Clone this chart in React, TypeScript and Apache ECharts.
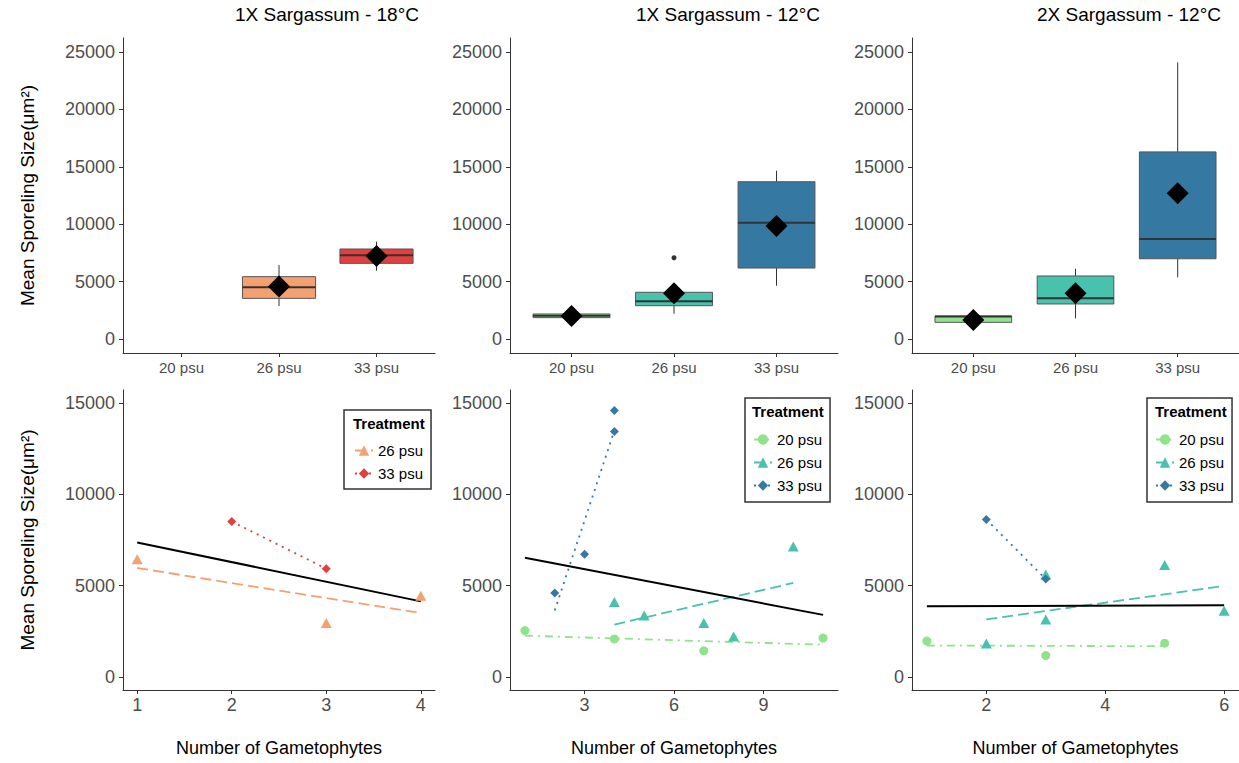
import React, { useEffect, useRef } from "react";
import * as echarts from "echarts";

const FONT = '"Liberation Sans", Arial, Helvetica, sans-serif';

// ---------- top row (boxplots) ----------
const psuCats = ["20 psu", "26 psu", "33 psu"];
const panelTitles = ["1X Sargassum - 18°C", "1X Sargassum - 12°C", "2X Sargassum - 12°C"];
const colors18 = ["#8FE38A", "#F4A070", "#E23F3F"];
const colors12 = ["#8FE38A", "#48C1AD", "#3579A2"];

// [category (1-based), lower whisker, Q1, median, Q3, upper whisker]
const box18 = [
  [2, 2870, 3540, 4500, 5430, 6450],
  [3, 5950, 6590, 7290, 7840, 8480],
];
const mean18 = [
  [2, 4580],
  [3, 7230],
];
const box1x12 = [
  [1, 1860, 1860, 2030, 2180, 2180],
  [2, 2200, 2900, 3280, 4070, 4100],
  [3, 4640, 6180, 10130, 13700, 14660],
];
const mean1x12 = [
  [1, 2000],
  [2, 3980],
  [3, 9840],
];
const outlier1x12 = [[2, 7080]];
const box2x12 = [
  [1, 1450, 1450, 1950, 2000, 2000],
  [2, 1800, 3050, 3550, 5490, 6120],
  [3, 5370, 6990, 8710, 16300, 24100],
];
const mean2x12 = [
  [1, 1650],
  [2, 3980],
  [3, 12690],
];
const topTicks = [0, 5000, 10000, 15000, 20000, 25000];

// ---------- bottom row (scatter + fits) ----------
const bottomTicks = [0, 5000, 10000, 15000];
// 1X Sargassum 18°C
const p4x26 = [1, 3, 4];
const p4y26 = [6450, 2950, 4450];
const p4x33 = [2, 3];
const p4y33 = [8520, 5930];
const p4fitAll = [[1, 7370], [4, 4140]];
const p4fit26 = [[1, 5970], [4, 3500]];
const p4fit33 = [[2, 8520], [3, 5930]];
// 1X Sargassum 12°C
const p5x20 = [1, 4, 7, 11];
const p5y20 = [2540, 2080, 1430, 2130];
const p5x26 = [4, 5, 7, 8, 10];
const p5y26 = [4100, 3360, 2960, 2210, 7150];
const p5x33 = [2, 3, 4, 4];
const p5y33 = [4600, 6730, 14610, 13460];
const p5fitAll = [[1, 6530], [11, 3400]];
const p5fit20 = [[1, 2260], [11, 1760]];
const p5fit26 = [[4, 2870], [10, 5150]];
const p5fit33 = [[2, 3640], [4, 13500]];
// 2X Sargassum 12°C
const p6x20 = [1, 3, 5];
const p6y20 = [1960, 1170, 1850];
const p6x26 = [2, 3, 3, 5, 6];
const p6y26 = [1830, 3150, 5620, 6130, 3620];
const p6x33 = [2, 3];
const p6y33 = [8630, 5360];
const p6fitAll = [[1, 3870], [6, 3930]];
const p6fit20 = [[1, 1720], [5, 1680]];
const p6fit26 = [[2, 3150], [6, 4990]];
const p6fit33 = [[2, 8630], [3, 5360]];

const legendLabel: Record<string, string> = {
  "p4-26": "26 psu",
  "p4-33": "33 psu",
  "p5-20": "20 psu",
  "p5-26": "26 psu",
  "p5-33": "33 psu",
  "p6-20": "20 psu",
  "p6-26": "26 psu",
  "p6-33": "33 psu",
};

const DASH_26 = [11, 5];
const DOT_33 = [2, 5];
const DOTDASH_20 = [8, 5, 2, 5];

function App() {
  const ref = useRef<HTMLDivElement>(null);

  useEffect(() => {
    document.body.style.margin = "0";
    const chart = echarts.init(ref.current!, null, { renderer: "svg" });

    const grids = [
      { left: 123, top: 38, width: 312, height: 315 },
      { left: 510, top: 38, width: 328, height: 315 },
      { left: 912, top: 38, width: 329, height: 315 },
      { left: 123, top: 390, width: 312, height: 300 },
      { left: 510, top: 390, width: 328, height: 300 },
      { left: 912, top: 390, width: 329, height: 300 },
    ];

    const axisLine = { show: true, onZero: false, lineStyle: { color: "#333", width: 1 } };
    const axisTick = (vals: number[]) => ({
      show: true,
      length: 4,
      lineStyle: { color: "#333", width: 1 },
      customValues: vals,
    });

    const yTitle = "Mean Sporeling Size(μm²)";
    const yAxes = [0, 1, 2, 3, 4, 5].map((i) => {
      const top = i < 3;
      const ticks = top ? topTicks : bottomTicks;
      return {
        type: "value",
        gridIndex: i,
        min: top ? -1220 : -720,
        max: top ? 26220 : 15730,
        splitLine: { show: false },
        axisLine,
        axisTick: axisTick(ticks),
        axisLabel: {
          customValues: ticks,
          formatter: (v: number) => String(Math.round(v)),
          fontSize: 18,
          color: "#4d4d4d",
          fontFamily: FONT,
          margin: 8,
        },
        name: i === 0 || i === 3 ? yTitle : "",
        nameLocation: "middle",
        nameRotate: 90,
        nameGap: 86,
        nameTextStyle: { fontSize: 19, color: "#000", fontFamily: FONT },
      };
    });

    const bottomX = [
      { min: 0.85, max: 4.15, ticks: [1, 2, 3, 4] },
      { min: 0.5, max: 11.5, ticks: [3, 6, 9] },
      { min: 0.75, max: 6.25, ticks: [2, 4, 6] },
    ];
    const xAxes: any[] = [];
    for (let i = 0; i < 3; i++) {
      xAxes.push({
        type: "value",
        gridIndex: i,
        min: 0.4,
        max: 3.6,
        splitLine: { show: false },
        axisLine,
        axisTick: axisTick([1, 2, 3]),
        axisLabel: {
          customValues: [1, 2, 3],
          formatter: (v: number) => psuCats[Math.round(v) - 1],
          fontSize: 15,
          color: "#4d4d4d",
          fontFamily: FONT,
          margin: 7,
        },
      });
    }
    bottomX.forEach((b, k) => {
      xAxes.push({
        type: "value",
        gridIndex: 3 + k,
        min: b.min,
        max: b.max,
        splitLine: { show: false },
        axisLine,
        axisTick: axisTick(b.ticks),
        axisLabel: {
          customValues: b.ticks,
          formatter: (v: number) => String(Math.round(v)),
          fontSize: 18,
          color: "#4d4d4d",
          fontFamily: FONT,
          margin: 6,
        },
        name: "Number of Gametophytes",
        nameLocation: "middle",
        nameGap: 49,
        nameTextStyle: { fontSize: 18, color: "#000", fontFamily: FONT },
      });
    });

    const boxSeries = (data: number[][], colors: string[], idx: number) => ({
      type: "custom",
      xAxisIndex: idx,
      yAxisIndex: idx,
      encode: { x: 0, y: [1, 2, 3, 4, 5] },
      data: data.map((d) => ({ value: d, itemStyle: { color: colors[d[0] - 1] } })),
      z: 2,
      renderItem: (params: any, api: any) => {
        const x = api.value(0);
        const lo = api.coord([x, api.value(1)]);
        const q1 = api.coord([x, api.value(2)]);
        const med = api.coord([x, api.value(3)]);
        const q3 = api.coord([x, api.value(4)]);
        const hi = api.coord([x, api.value(5)]);
        const w = api.size([0.75, 0])[0];
        const cx = q1[0];
        return {
          type: "group",
          children: [
            { type: "line", shape: { x1: cx, y1: hi[1], x2: cx, y2: q3[1] }, style: { stroke: "#333", lineWidth: 1 } },
            { type: "line", shape: { x1: cx, y1: q1[1], x2: cx, y2: lo[1] }, style: { stroke: "#333", lineWidth: 1 } },
            {
              type: "rect",
              shape: { x: cx - w / 2, y: q3[1], width: w, height: q1[1] - q3[1] },
              style: { fill: api.visual("color"), stroke: "#555", lineWidth: 1 },
            },
            {
              type: "line",
              shape: { x1: cx - w / 2, y1: med[1], x2: cx + w / 2, y2: med[1] },
              style: { stroke: "#333", lineWidth: 2 },
            },
          ],
        };
      },
    });

    const meanSeries = (data: number[][], idx: number) => ({
      type: "scatter",
      xAxisIndex: idx,
      yAxisIndex: idx,
      data,
      symbol: "diamond",
      symbolSize: 22,
      itemStyle: { color: "#000", opacity: 1 },
      z: 5,
    });

    const pts = (name: string, xs: number[], ys: number[], symbol: string, size: any, color: string, idx: number) => ({
      type: "scatter",
      name,
      xAxisIndex: idx,
      yAxisIndex: idx,
      data: xs.map((x, i) => [x, ys[i]]),
      symbol,
      symbolSize: size,
      itemStyle: { color, opacity: 1 },
      z: 4,
    });

    const fit = (name: string, data: number[][], color: string, dash: any, symbol: string, idx: number, width = 1.8) => ({
      type: "line",
      name,
      xAxisIndex: idx,
      yAxisIndex: idx,
      data,
      showSymbol: false,
      symbol,
      symbolSize: 10,
      lineStyle: { color, width, type: dash },
      itemStyle: { color },
      z: 3,
    });

    const c20 = colors12[0];
    const c26 = colors12[1];
    const c33 = colors12[2];
    const TRI = [11, 10];

    const series: any[] = [
      boxSeries(box18, colors18, 0),
      meanSeries(mean18, 0),
      boxSeries(box1x12, colors12, 1),
      {
        type: "scatter",
        xAxisIndex: 1,
        yAxisIndex: 1,
        data: outlier1x12,
        symbol: "circle",
        symbolSize: 5,
        itemStyle: { color: "#333", opacity: 1 },
        z: 4,
      },
      meanSeries(mean1x12, 1),
      boxSeries(box2x12, colors12, 2),
      meanSeries(mean2x12, 2),

      // panel 4
      fit("p4-26", p4fit26, colors18[1], DASH_26, "triangle", 3),
      fit("p4-33", p4fit33, colors18[2], DOT_33, "diamond", 3),
      fit("p4-all", p4fitAll, "#000", "solid", "none", 3, 2),
      pts("p4-26-pts", p4x26, p4y26, "triangle", TRI, colors18[1], 3),
      pts("p4-33-pts", p4x33, p4y33, "diamond", 9, colors18[2], 3),

      // panel 5
      fit("p5-20", p5fit20, c20, DOTDASH_20, "circle", 4),
      fit("p5-26", p5fit26, c26, DASH_26, "triangle", 4),
      fit("p5-33", p5fit33, c33, DOT_33, "diamond", 4),
      fit("p5-all", p5fitAll, "#000", "solid", "none", 4, 2),
      pts("p5-20-pts", p5x20, p5y20, "circle", 9, c20, 4),
      pts("p5-26-pts", p5x26, p5y26, "triangle", TRI, c26, 4),
      pts("p5-33-pts", p5x33, p5y33, "diamond", 9, c33, 4),

      // panel 6
      fit("p6-20", p6fit20, c20, DOTDASH_20, "circle", 5),
      fit("p6-26", p6fit26, c26, DASH_26, "triangle", 5),
      fit("p6-33", p6fit33, c33, DOT_33, "diamond", 5),
      fit("p6-all", p6fitAll, "#000", "solid", "none", 5, 2),
      pts("p6-20-pts", p6x20, p6y20, "circle", 9, c20, 5),
      pts("p6-26-pts", p6x26, p6y26, "triangle", TRI, c26, 5),
      pts("p6-33-pts", p6x33, p6y33, "diamond", 9, c33, 5),
    ];

    const legendBase = {
      orient: "vertical",
      itemWidth: 18,
      itemHeight: 13,
      itemGap: 8,
      itemTextGap: 9,
      selectedMode: false,
      borderColor: "#333",
      borderWidth: 1.5,
      formatter: (n: string) => legendLabel[n],
      textStyle: { fontSize: 15, color: "#000", fontFamily: FONT },
    };

    const legends = [
      { ...legendBase, data: ["p4-26", "p4-33"], left: 344, top: 410, padding: [33, 8, 8, 10] },
      { ...legendBase, data: ["p5-20", "p5-26", "p5-33"], left: 745, top: 398, padding: [34, 8, 9, 8] },
      { ...legendBase, data: ["p6-20", "p6-26", "p6-33"], left: 1147, top: 398, padding: [34, 8, 9, 8] },
    ];

    const legendTitles = [
      [353, 425],
      [752, 413],
      [1155, 413],
    ];

    const titleCenters = [327, 728, 1129];

    chart.setOption({
      animation: false,
      backgroundColor: "#fff",
      textStyle: { fontFamily: FONT },
      title: panelTitles.map((t, i) => ({
        text: t,
        left: titleCenters[i],
        textAlign: "center",
        top: 5,
        padding: 0,
        textStyle: { fontSize: 19, fontWeight: "normal", color: "#000", fontFamily: FONT },
      })),
      grid: grids,
      xAxis: xAxes,
      yAxis: yAxes,
      legend: legends,
      graphic: legendTitles.map(([x, y]) => ({
        type: "text",
        left: x,
        top: y - 9,
        z: 100,
        style: {
          text: "Treatment",
          fontSize: 15,
          fontWeight: "bold",
          fill: "#000",
          fontFamily: FONT,
        },
      })),
      series,
    });

    return () => chart.dispose();
  }, []);

  return <div ref={ref} style={{ width: 1239, height: 763 }} />;
}

export default App;
